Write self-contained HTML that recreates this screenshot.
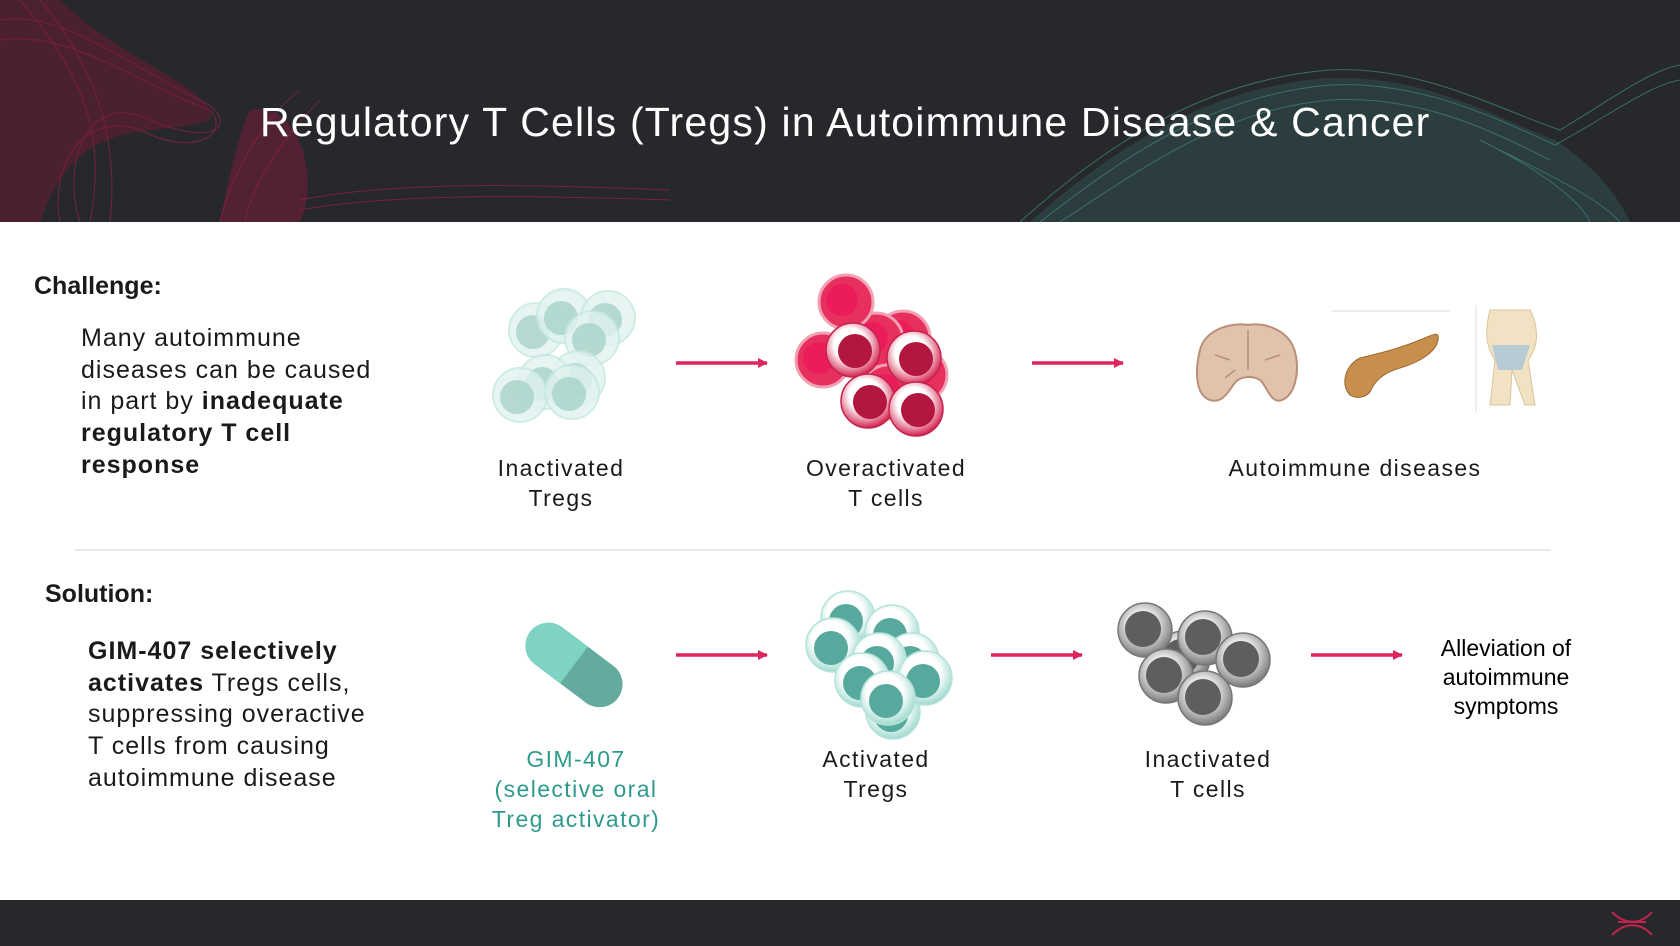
<!DOCTYPE html>
<html><head><meta charset="utf-8"><style>
body{margin:0;width:1680px;height:946px;overflow:hidden;background:#fff;font-family:"Liberation Sans",sans-serif;position:relative}
.t{position:absolute;white-space:nowrap;color:#1a1a1a}
.c{text-align:center;transform:translateX(-50%)}
.p{font-size:25px;line-height:31.7px;color:#1a1a1a;position:absolute;white-space:nowrap;letter-spacing:1px}
.lab{font-size:23px;line-height:30px;letter-spacing:1.4px}
</style></head><body>
<svg width="1680" height="946" style="position:absolute;left:0;top:0">
<defs>
<radialGradient id="gt" cx="45%" cy="40%" r="60%"><stop offset="0.55" stop-color="#ffffff"/><stop offset="1" stop-color="#9fd9cf"/></radialGradient>
<radialGradient id="gr" cx="45%" cy="40%" r="60%"><stop offset="0.5" stop-color="#ffffff"/><stop offset="1" stop-color="#d4234f"/></radialGradient>
<radialGradient id="gg" cx="45%" cy="40%" r="60%"><stop offset="0.45" stop-color="#e8e8e8"/><stop offset="1" stop-color="#7a7a7a"/></radialGradient>
<g id="ti"><circle r="27" fill="#e2f3f0" stroke="#c5e8e1" stroke-width="2" opacity="0.8"/><circle cx="-3" cy="2" r="17" fill="#a9d3cc" opacity="0.85"/></g>
<g id="rb"><circle r="27" fill="#e8305e" stroke="#f2a0b4" stroke-width="3"/><circle cx="-4" cy="-2" r="16" fill="#ea1d5a"/></g>
<g id="rf"><circle r="27" fill="url(#gr)" stroke="#c4234c" stroke-width="1.5"/><circle cx="2" cy="1" r="17" fill="#b3163f"/></g>
<g id="ta"><circle r="27" fill="url(#gt)" stroke="#b5e3da" stroke-width="1.5"/><circle cx="-2" cy="3" r="17" fill="#57a99d"/></g>
<g id="gr1"><circle r="27" fill="url(#gg)" stroke="#777" stroke-width="1.5"/><circle cx="-2" cy="-1" r="18" fill="#5e5e5e"/></g>
<marker id="ah" markerWidth="10" markerHeight="10" refX="9" refY="5" orient="auto" markerUnits="userSpaceOnUse"><path d="M0,0 L10,5 L0,10 z" fill="#e0245e"/></marker>
</defs>
<rect x="0" y="0" width="1680" height="222" fill="#26282b"/>
<g fill="none" stroke="#b8204e" stroke-width="1" opacity="0.55">
<path d="M0,20 C60,10 120,60 200,100 C240,120 220,150 150,120 C90,90 60,160 80,222"/>
<path d="M0,40 C70,30 130,80 210,110 C230,130 200,160 140,130 C80,110 50,170 60,222"/>
<path d="M20,0 C70,60 110,120 90,222"/>
<path d="M40,0 C90,60 120,130 110,222"/>
<path d="M300,90 C260,120 230,180 220,222"/>
<path d="M320,100 C280,140 250,190 245,222"/>
<path d="M300,200 C400,180 550,185 670,190"/>
<path d="M300,210 C400,192 550,196 670,200"/>
</g>
<path d="M0,0 L60,0 C120,60 220,90 210,120 C150,140 80,110 40,222 L0,222 Z" fill="#7a1838" opacity="0.45"/>
<path d="M250,110 C300,100 320,180 300,222 L220,222 C230,170 240,130 250,110Z" fill="#8a1a40" opacity="0.45"/>
<g fill="none" stroke="#4fa39d" stroke-width="1" opacity="0.55">
<path d="M1020,222 C1100,150 1200,80 1330,70 C1420,65 1500,110 1560,130 C1610,100 1650,70 1680,65"/>
<path d="M1040,222 C1120,160 1210,95 1330,85 C1420,80 1500,120 1555,145 C1610,115 1650,85 1680,80"/>
<path d="M1060,222 C1140,170 1220,110 1330,100 C1420,95 1490,130 1550,160"/>
<path d="M1500,150 C1560,180 1600,200 1620,222"/>
<path d="M1480,140 C1540,170 1580,200 1590,222"/>
</g>
<path d="M1030,222 C1110,150 1210,85 1330,78 C1430,75 1500,120 1555,140 C1600,170 1620,200 1630,222Z" fill="#3b7a77" opacity="0.25"/>
<rect x="0" y="900" width="1680" height="46" fill="#26282b"/>
<g stroke="#c2244f" stroke-width="2" fill="none"><path d="M1612,912 C1625,925 1640,925 1652,912"/><path d="M1612,935 C1625,922 1640,922 1652,935"/><path d="M1618,922 L1646,922"/></g>
<line x1="75" y1="550" x2="1551" y2="550" stroke="#e2e2e2" stroke-width="1.5"/>
<g stroke="#e0245e" stroke-width="3.5" marker-end="url(#ah)">
<line x1="676" y1="363" x2="767" y2="363"/>
<line x1="1032" y1="363" x2="1123" y2="363"/>
<line x1="676" y1="655" x2="767" y2="655"/>
<line x1="991" y1="655" x2="1082" y2="655"/>
<line x1="1311" y1="655" x2="1402" y2="655"/>
</g>
<use href="#ti" x="536" y="330"/><use href="#ti" x="564" y="316"/><use href="#ti" x="608" y="318"/><use href="#ti" x="592" y="338"/>
<use href="#ti" x="578" y="378"/><use href="#ti" x="545" y="382"/><use href="#ti" x="520" y="395"/><use href="#ti" x="572" y="392"/>
<use href="#rb" x="903" y="338"/><use href="#rb" x="920" y="375"/><use href="#rb" x="823" y="360"/><use href="#rb" x="876" y="340"/><use href="#rb" x="888" y="392"/>
<use href="#rb" x="846" y="302"/>
<use href="#rf" x="853" y="350"/><use href="#rf" x="914" y="358"/><use href="#rf" x="868" y="401"/><use href="#rf" x="916" y="409"/>
<path d="M1210,400 C1195,395 1195,370 1200,350 C1205,330 1230,322 1248,325 C1268,322 1290,332 1295,352 C1300,372 1295,395 1282,400 C1272,404 1268,390 1262,382 C1256,375 1240,375 1234,384 C1228,392 1222,404 1210,400Z" fill="#e1c3ad" stroke="#b98f76" stroke-width="2"/>
<path d="M1248,330 L1248,370 M1215,355 l15,5 M1280,355 l-15,5 M1225,378 l10,-8" stroke="#b98f76" stroke-width="1.5" fill="none"/>
<line x1="1332" y1="311" x2="1450" y2="311" stroke="#ddd" stroke-width="1"/>
<path d="M1350,395 C1340,385 1345,365 1360,358 C1385,352 1400,348 1420,340 C1432,335 1440,330 1438,340 C1436,352 1420,362 1400,368 C1385,372 1375,380 1370,392 C1365,398 1356,399 1350,395Z" fill="#c88f4c" stroke="#9c6a30" stroke-width="1"/>
<line x1="1476" y1="305" x2="1476" y2="412" stroke="#ddd" stroke-width="1"/>
<path d="M1490,310 C1485,330 1485,345 1495,360 L1490,405 L1510,405 L1512,370 L1525,405 L1535,405 L1528,360 C1540,345 1538,325 1530,310 Z" fill="#f0e2c2" stroke="#d8c49a" stroke-width="1"/>
<path d="M1492,345 L1530,345 L1522,370 L1498,370 Z" fill="#a9c6d9" opacity="0.8"/>
<g transform="translate(574,665) rotate(37)">
<rect x="-55" y="-23" width="110" height="46" rx="23" fill="#63ab9f"/>
<path d="M0,-23 L-32,-23 A23,23 0 0 0 -32,23 L0,23 Z" fill="#7fd3c3"/>
</g>
<use href="#ta" x="848" y="618"/><use href="#ta" x="892" y="632"/><use href="#ta" x="912" y="660"/><use href="#ta" x="893" y="712"/>
<use href="#ta" x="833" y="645"/><use href="#ta" x="879" y="660"/><use href="#ta" x="862" y="680"/><use href="#ta" x="925" y="678"/><use href="#ta" x="888" y="698"/>
<use href="#gr1" x="1183" y="658"/><use href="#gr1" x="1145" y="630"/><use href="#gr1" x="1205" y="638"/><use href="#gr1" x="1243" y="660"/><use href="#gr1" x="1166" y="676"/><use href="#gr1" x="1205" y="698"/>
</svg>
<div class="t" style="left:260px;top:99px;font-size:41px;letter-spacing:1.2px;color:#fff">Regulatory T Cells (Tregs) in Autoimmune Disease &amp; Cancer</div>
<div class="t" style="left:34px;top:272px;font-size:25px;font-weight:bold">Challenge:</div>
<div class="p" style="left:81px;top:323px">Many autoimmune<br>diseases can be caused<br>in part by <b>inadequate<br>regulatory T cell<br>response</b></div>
<div class="t c lab" style="left:561px;top:453px">Inactivated<br>Tregs</div>
<div class="t c lab" style="left:886px;top:453px">Overactivated<br>T cells</div>
<div class="t c lab" style="left:1355px;top:453px">Autoimmune diseases</div>
<div class="t" style="left:45px;top:580px;font-size:25px;font-weight:bold">Solution:</div>
<div class="p" style="left:88px;top:636px"><b>GIM-407 selectively<br>activates</b> Tregs cells,<br>suppressing overactive<br>T cells from causing<br>autoimmune disease</div>
<div class="t c lab" style="left:576px;top:744px;color:#2e9a8c">GIM-407<br>(selective oral<br>Treg activator)</div>
<div class="t c lab" style="left:876px;top:744px">Activated<br>Tregs</div>
<div class="t c lab" style="left:1208px;top:744px">Inactivated<br>T cells</div>
<div class="t c" style="left:1506px;top:634px;font-size:23px;line-height:29px;color:#000">Alleviation of<br>autoimmune<br>symptoms</div>
</body></html>
